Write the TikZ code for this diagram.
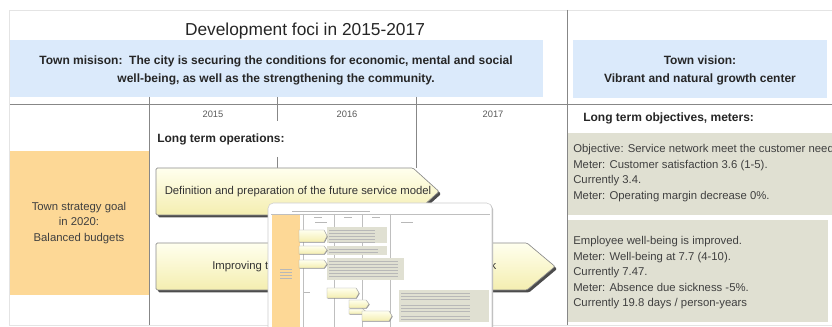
\documentclass[tikz,border=0pt]{standalone}
\usepackage{fontspec}
\setmainfont{Liberation Sans}
\usepackage{xcolor}
\usetikzlibrary{shadows}
\definecolor{lightblue}{RGB}{219,234,251}
\definecolor{lightorange}{RGB}{253,216,150}
\definecolor{palebeige}{RGB}{224,224,210}
\definecolor{lightyellow}{RGB}{255,255,238}
\definecolor{paleyellow}{RGB}{244,238,176}
\definecolor{gridgray}{RGB}{135,135,135}
\definecolor{framegray}{RGB}{228,228,228}

\begin{document}
\begin{tikzpicture}[
    x=0.75pt, y=-0.75pt,
    gridline/.style={draw=gridgray, line width=0.7pt},
    framebox/.style={draw=framegray, line width=0.7pt},
    opsarrow/.style={draw=black!45, line width=0.5pt, rounded corners=1pt,
      top color=lightyellow, bottom color=paleyellow,
      drop shadow={shadow xshift=1.6pt, shadow yshift=-1.8pt, fill=black!70, opacity=1}},
    headtext/.style={font=\bfseries\fontsize{9}{13.5}\selectfont, text=black!85, align=center, inner sep=0pt},
    bodytext/.style={font=\fontsize{8.5}{11.6}\selectfont, text=black!75, align=left, inner sep=0pt},
    yeartext/.style={font=\fontsize{7}{8}\selectfont, text=black!65, inner sep=0pt},
    thumbline/.style={draw=black!25, line width=0.3pt},
    thumbtext/.style={draw=black!28, line width=0.3pt},
    miniop/.style={draw=black!35, line width=0.3pt, top color=lightyellow, bottom color=paleyellow,
      drop shadow={shadow xshift=0.5pt, shadow yshift=-0.5pt, fill=black!45, opacity=1}}
  ]
  \useasboundingbox (0,0) rectangle (832,327);
  % frame and grid
  \draw[framebox] (832,10) -- (9.5,10) -- (9.5,325) -- (832,325);
  \fill[lightblue] (10,40) rectangle (543,97);
  \fill[lightblue] (573,40) rectangle (827,98);
  \fill[lightorange] (10,151) rectangle (149,295);
  \fill[palebeige] (567,133) rectangle (832,215);
  \fill[palebeige] (567,220) rectangle (828,322);
  \draw[gridline] (10,104) -- (832,104);
  \draw[gridline] (567,10) -- (567,325);
  \draw[gridline] (149,97) -- (149,325);
  \draw[gridline] (277,97) -- (277,121);
  \draw[gridline] (277,157) -- (277,168);
  \draw[gridline] (416,97) -- (416,168);

  % headings
  \node[font=\fontsize{13}{15}\selectfont, text=black!85] (title) at (305,31) {Development foci in 2015-2017};
  \node[headtext] (mission) at (276,70)
    {Town misison:\ \ The city is securing the conditions for economic, mental and social\\
     well-being, as well as the strengthening the community.};
  \node[headtext] (vision) at (700,70) {Town vision:\\Vibrant and natural growth center};
  \node[yeartext] (y2015) at (213,114) {2015};
  \node[yeartext] (y2016) at (347,114) {2016};
  \node[yeartext] (y2017) at (493,114) {2017};
  \node[headtext, anchor=west] (operations) at (157,139) {Long term operations:};
  \node[headtext, anchor=west] (objectives) at (583,118) {Long term objectives, meters:};

  % goal and objectives
  \node[bodytext, align=center] (goal) at (79,223) {Town strategy goal\\in 2020:\\Balanced budgets};
  \node[bodytext, anchor=west] (meterA) at (573,173)
    {Objective: Service network meet the customer need\\
     Meter: Customer satisfaction 3.6 (1-5).\\
     Currently 3.4.\\
     Meter: Operating margin decrease 0\%.};
  \node[bodytext, anchor=west] (meterB) at (573,273)
    {Employee well-being is improved.\\
     Meter: Well-being at 7.7 (4-10).\\
     Currently 7.47.\\
     Meter: Absence due sickness -5\%.\\
     Currently 19.8 days / person-years};

  % operations
  \path[opsarrow] (156,168) -- (413,168) -- (439,191.5) -- (413,215) -- (156,215) -- cycle;
  \path[opsarrow] (156,243) -- (527,243) -- (555,266.5) -- (527,290) -- (156,290) -- cycle;
  \node[bodytext, text=black!80] (servicemodel) at (298,192)
    {Definition and preparation of the future service model};
  \node[bodytext, text=black!80, anchor=west] (improving) at (212,267)
    {\makebox[213pt]{Improving t\hfill k}};

  % thumbnail of the detailed plan
  \filldraw[draw=black!20, fill=white, rounded corners=4pt,
    drop shadow={shadow xshift=0.8pt, shadow yshift=-0.8pt, fill=black!30, opacity=1}]
    (268,203) rectangle (492,340);
  \draw[thumbtext] (292,211) -- (370,211);
  \draw[thumbline] (271,214) -- (490,214);
  \foreach \xv in {303,334,362,390}
    \draw[thumbline] (\xv,214) -- (\xv,327);
  \foreach \xv in {318,348,376}
    \draw[thumbtext] (\xv-4,217.5) -- (\xv+4,217.5);
  \draw[thumbtext, line width=0.5pt] (315,222) -- (327,222);
  \draw[thumbtext, line width=0.5pt] (401,222) -- (413,222);
  \fill[lightorange] (272,215) rectangle (300,330);
  \foreach \yv in {269,272,275,278}
    \draw[thumbtext] (280,\yv) -- (292,\yv);
  \draw[thumbtext] (304,292) -- (310,292);
  \foreach \xa/\xb/\ya/\yb in {327/387/227/243, 327/387/246/255, 327/404/258/280, 399/489/290/322}
    \fill[palebeige] (\xa,\ya) rectangle (\xb,\yb);
  \foreach \yv in {230,233,236,239,242}
    \draw[thumbtext] (329,\yv) -- (375,\yv);
  \foreach \yv in {249,252}
    \draw[thumbtext] (329,\yv) -- (378,\yv);
  \foreach \yv in {261,264,267,270,273,276}
    \draw[thumbtext] (329,\yv) -- (398,\yv);
  \foreach \yv in {293,296,299,305,308,311,316,319}
    \draw[thumbtext] (401,\yv) -- (470,\yv);
  \foreach \xa/\xb/\ya/\yb in {299/327/230/242, 299/327/246/254, 299/327/260/268,
      327/359/288/298, 349/369/300/308, 349/366/309/314, 362/392/311/321}
    \draw[miniop] (\xa,\ya) -- (\xb-3,\ya) -- (\xb,{(\ya+\yb)/2}) -- (\xb-3,\yb) -- (\xa,\yb) -- cycle;
\end{tikzpicture}
\end{document}
